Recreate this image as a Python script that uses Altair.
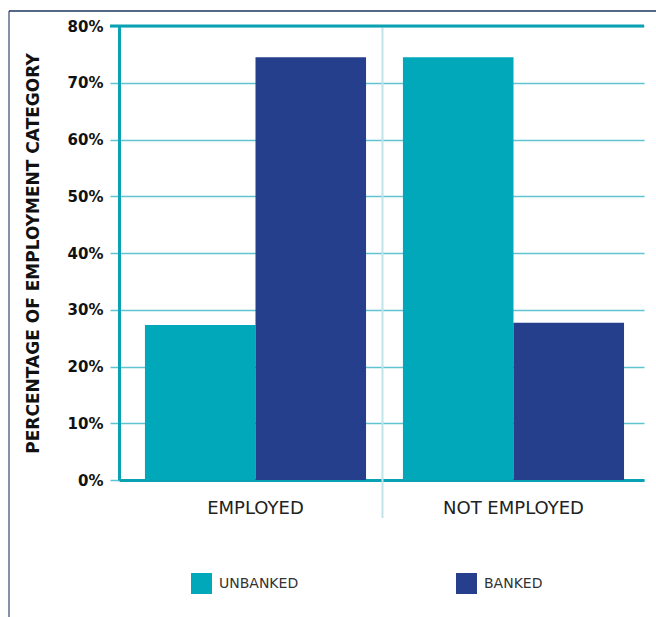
import altair as alt
import pandas as pd

categories = ["EMPLOYED", "EMPLOYED", "NOT EMPLOYED", "NOT EMPLOYED"]
groups = ["UNBANKED", "BANKED", "UNBANKED", "BANKED"]
values = [0.273, 0.745, 0.745, 0.277]
cat_order = ["EMPLOYED", "NOT EMPLOYED"]
group_order = ["UNBANKED", "BANKED"]
colors = ["#00A8BA", "#253F8C"]
y_ticks = [0, 0.1, 0.2, 0.3, 0.4, 0.5, 0.6, 0.7, 0.8]

df = pd.DataFrame({"category": categories, "group": groups, "value": values})

W, H = 525, 454
TEAL = "#0AA2B3"
GRID = "#5FC4CF"

xscale = alt.Scale(domain=cat_order, paddingInner=0.143, paddingOuter=0.089, align=0.565)
xaxis = alt.Axis(title=None, labelAngle=0, labelFont="DejaVu Sans", labelFontSize=18,
                 labelColor="#222222", labelPadding=19, ticks=False,
                 domainColor=TEAL, domainWidth=3, grid=False)

bars = alt.Chart(df).mark_bar().encode(
    x=alt.X("category:N", scale=xscale, sort=cat_order, axis=xaxis),
    xOffset=alt.XOffset("group:N", sort=group_order, scale=alt.Scale(paddingInner=0, paddingOuter=0)),
    y=alt.Y("value:Q", scale=alt.Scale(domain=[0, 0.8], nice=False),
            axis=alt.Axis(title="PERCENTAGE OF EMPLOYMENT CATEGORY", format=".0%", values=y_ticks,
                          titleFont="DejaVu Sans", titleFontSize=17, titleFontWeight="bold",
                          titleColor="#111111", titlePadding=25,
                          labelFont="DejaVu Sans", labelFontSize=15, labelFontWeight="bold",
                          labelColor="#111111", labelPadding=7, tickSize=9, tickColor=GRID,
                          tickWidth=1.5, grid=True, gridColor=GRID, gridWidth=1.5,
                          domainColor=TEAL, domainWidth=3)),
    color=alt.Color("group:N", sort=group_order, scale=alt.Scale(domain=group_order, range=colors),
                    legend=alt.Legend(title=None, orient="none", legendX=72, legendY=547,
                                      direction="horizontal", columns=2, columnPadding=157,
                                      symbolType="square", symbolSize=440, symbolStrokeWidth=0,
                                      symbolOpacity=1, labelFont="DejaVu Sans", labelFontSize=14,
                                      labelColor="#333333", labelOffset=7, padding=0)),
)

divider_df = pd.DataFrame({"category": ["NOT EMPLOYED"]})
divider = alt.Chart(divider_df).mark_rule(color="#BFE4EA", strokeWidth=2, xOffset=-131).encode(
    x=alt.X("category:N", scale=xscale, sort=cat_order, axis=xaxis),
    y=alt.value(0),
    y2=alt.value(492),
)

top_df = pd.DataFrame({"v": [0.8]})
top_line = alt.Chart(top_df).mark_rule(color=TEAL, strokeWidth=3).encode(
    y="v:Q", x=alt.value(-9), x2=alt.value(W)
)

frame_left = alt.Chart(top_df).mark_rule(color="#5B6F8C", strokeWidth=1.5).encode(
    x=alt.value(-110), y=alt.value(-15), y2=alt.value(600)
)
frame_top = alt.Chart(top_df).mark_rule(color="#1C355E", strokeWidth=1.5).encode(
    x=alt.value(-110), x2=alt.value(540), y=alt.value(-15)
)

chart = alt.layer(divider, bars, top_line, frame_left, frame_top).properties(
    width=W, height=H,
    autosize=alt.AutoSizeParams(type="none"),
    padding={"left": 119, "top": 26, "right": 12, "bottom": 137},
).configure_view(stroke=None)

chart.save("out.html", embed_options={"renderer": "svg", "actions": False})
